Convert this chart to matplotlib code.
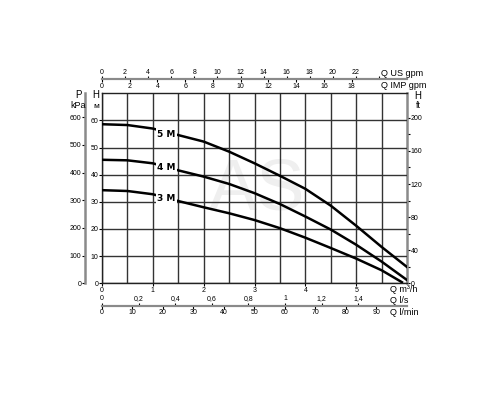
import numpy as np
import matplotlib.pyplot as plt

plt.rcParams['font.family'] = ['Liberation Sans', 'DejaVu Sans']

# flow in m3/h and head in m for the three pump models
q = [0, 0.5, 1, 1.5, 2, 2.5, 3, 3.5, 4, 4.5, 5, 5.5, 6]
h_5m = [58.6, 58.3, 57.0, 54.6, 52.2, 48.5, 44.2, 39.6, 34.8, 28.6, 21.2, 13.4, 6.0]
h_4m = [45.5, 45.3, 44.2, 41.6, 39.3, 36.6, 33.2, 29.2, 24.6, 19.8, 14.2, 8.0, 1.2]
q_3m = [0, 0.5, 1, 1.5, 2, 2.5, 3, 3.5, 4, 4.5, 5, 5.5, 5.9]
h_3m = [34.3, 34.0, 32.8, 30.3, 28.0, 25.8, 23.3, 20.3, 16.8, 13.0, 9.1, 4.8, 0.4]

curve_names = ['5 M', '4 M', '3 M']
label_pos = [(1.27, 54.9), (1.27, 42.5), (1.27, 31.2)]

us_ticks = list(range(0, 26, 2))
imp_ticks = list(range(0, 20, 2))
ls_ticks = [0, 0.2, 0.4, 0.6, 0.8, 1, 1.2, 1.4]
lmin_ticks = list(range(0, 100, 10))
kpa_ticks = list(range(0, 700, 100))
ft_ticks = list(range(0, 240, 40))

fs = 5
gray = '#8a8a8a'

fig = plt.figure(figsize=(5, 4), dpi=100)
ax = fig.add_axes([0.204, 0.2918, 0.61, 0.475])
ax.set_xlim(0, 6)
ax.set_ylim(0, 70)

ax.text(3.05, 34, 'AS', fontsize=52, color='#efefef', ha='center', va='center', zorder=0)

ax.set_xticks(range(0, 6))
ax.set_xticks(np.arange(0.5, 6, 1), minor=True)
ax.set_yticks(range(0, 70, 10))
ax.grid(True, which='both', color='#333333', lw=1.0)
ax.tick_params(which='minor', length=0)
ax.tick_params(which='major', labelsize=fs, length=2, pad=0.5, width=0.8)
ax.set_axisbelow(True)
for s in ['left', 'bottom', 'top']:
    ax.spines[s].set_color('#222222')
    ax.spines[s].set_linewidth(1.0)
ax.spines['right'].set_visible(False)

for qq, hh in [(q, h_5m), (q, h_4m), (q_3m, h_3m)]:
    ax.plot(qq, hh, color='black', lw=1.8, zorder=3, solid_joinstyle='round')
for name, (x, y) in zip(curve_names, label_pos):
    ax.text(x, y, name, fontsize=6.5, fontweight='bold', ha='center', va='center',
            family=['Liberation Sans Narrow', 'DejaVu Sans'], zorder=4,
            bbox=dict(facecolor='white', edgecolor='none', pad=1.0))

# kPa axis on the left
pk = ax.secondary_yaxis(-0.056, functions=(lambda h: h * 9.81, lambda p: p / 9.81))
pk.set_yticks(kpa_ticks)
pk.tick_params(labelsize=fs, length=2, pad=0.5, width=0.8)
pk.spines['left'].set_color(gray)
pk.spines['left'].set_linewidth(1.8)

# feet axis on the right
ft = ax.secondary_yaxis('right', functions=(lambda h: h * 3.2808, lambda f: f / 3.2808))
ft.set_yticks(ft_ticks)
ft.set_yticks(range(20, 220, 40), minor=True)
ft.tick_params(which='both', labelsize=fs, length=2, pad=0.5, width=0.8)
ft.spines['right'].set_color(gray)
ft.spines['right'].set_linewidth(1.8)

# gpm axes on top
us = ax.secondary_xaxis(1.075, functions=(lambda x: x * 4.4029, lambda g: g / 4.4029))
us.set_xticks(us_ticks, [str(t) if t < 24 else '' for t in us_ticks])
us.tick_params(labelsize=fs, length=2, pad=0.5, width=0.8)
us.spines['top'].set_color(gray)
us.spines['top'].set_linewidth(1.5)

imp = ax.secondary_xaxis(1.075, functions=(lambda x: x * 3.6662, lambda g: g / 3.6662))
imp.set_alignment('bottom')
imp.set_xticks(imp_ticks)
imp.tick_params(labelsize=fs, length=2, pad=0.5, width=0.8)
imp.spines['bottom'].set_color(gray)
imp.spines['bottom'].set_linewidth(1.5)

# l/s and l/min axes below
ls = ax.secondary_xaxis(-0.118, functions=(lambda x: x / 3.6, lambda l: l * 3.6))
ls.set_alignment('top')
ls.set_xticks(ls_ticks, [('%g' % t).replace('.', ',') for t in ls_ticks])
ls.tick_params(labelsize=fs, length=2, pad=0.5, width=0.8)
ls.spines['top'].set_color(gray)
ls.spines['top'].set_linewidth(1.5)

lm = ax.secondary_xaxis(-0.118, functions=(lambda x: x * 16.667, lambda l: l / 16.667))
lm.set_xticks(lmin_ticks)
lm.tick_params(labelsize=fs, length=2, pad=0.5, width=0.8)
lm.spines['bottom'].set_color(gray)
lm.spines['bottom'].set_linewidth(1.5)

# axis names
def label(x, y, s, size=6.5, ha='left'):
    fig.text(x / 500, 1 - y / 400, s, fontsize=size, ha=ha, va='center')

label(78, 95, 'P', 7, 'center')
label(78, 106, 'kPa', 6.5, 'center')
label(96, 95, 'H', 7, 'center')
label(96, 106, 'м', 6, 'center')
label(418, 96, 'H', 7, 'center')
label(418, 106, 'ft', 6.5, 'center')
label(381, 74, 'Q US gpm')
label(381, 86, 'Q IMP gpm')
label(390, 289.5, 'Q m³/h')
label(390, 300.5, 'Q l/s')
label(390, 312.5, 'Q l/min')

plt.savefig('out.png', dpi=100)
